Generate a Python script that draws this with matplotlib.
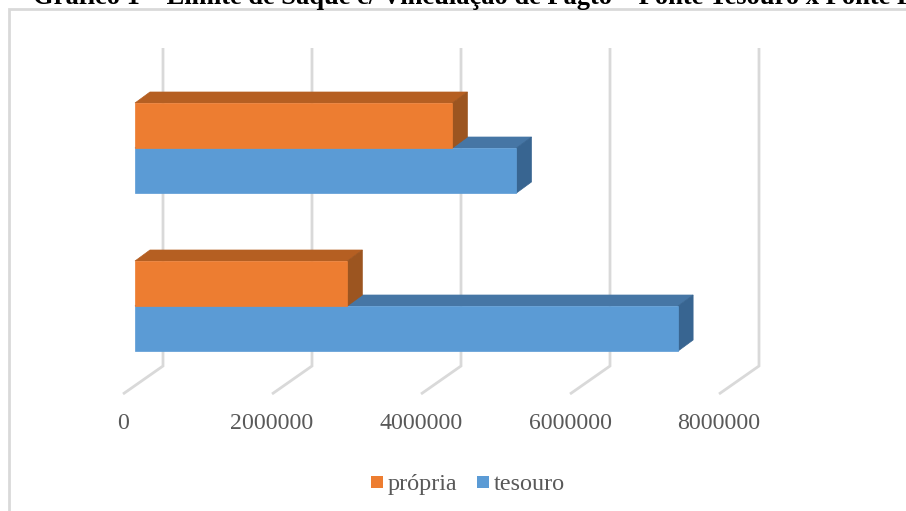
import matplotlib
matplotlib.use("Agg")
import matplotlib.pyplot as plt
from matplotlib.patches import Polygon, Rectangle
import numpy as np

plt.rcParams['font.family'] = ['Liberation Serif', 'DejaVu Serif']

categories = ["A", "B"]
tesouro = [7290000, 5120000]
propria = [2850000, 4260000]
series_names = ["própria", "tesouro"]
x_ticks = [0, 2000000, 4000000, 6000000, 8000000]
title = "Gráfico 1 – Limite de Saque c/ Vinculação de Pagto – Fonte Tesouro x Fonte Própria"

W, H = 906, 511
fig = plt.figure(figsize=(W / 100, H / 100), dpi=100)
ax = fig.add_axes([0, 0, 1, 1])
ax.axis('off')

# pixel <-> data mapping
PX_PER_UNIT = 149 / 2000000
X0 = 135
CAT_PX = 158
Y0 = 306
ax.set_xlim((0 - X0) / PX_PER_UNIT, (W - X0) / PX_PER_UNIT)
ax.set_ylim((Y0 - H) / CAT_PX, Y0 / CAT_PX)

dx = 15 / PX_PER_UNIT
dy = 11 / CAT_PX
bh = 45 / CAT_PX
wall_dx = 28 / PX_PER_UNIT
floor_dx = -12 / PX_PER_UNIT
floor_y = (Y0 - 394) / CAT_PX
wall_low = (Y0 - 366) / CAT_PX
wall_top = (Y0 - 48) / CAT_PX

GRID = '#d9d9d9'
for v in x_ticks:
    ax.plot([v + floor_dx, v + wall_dx, v + wall_dx], [floor_y, wall_low, wall_top],
            color=GRID, lw=2, solid_joinstyle='miter', solid_capstyle='butt', zorder=1)
    ax.text(v + floor_dx, (Y0 - 423) / CAT_PX, f"{v}", ha='center', va='center',
            fontsize=17.2, color='#595959')


def bar3d(val, y0, front, top, side, z):
    ax.add_patch(Polygon([(0, y0 + bh), (dx, y0 + bh + dy), (val + dx, y0 + bh + dy), (val, y0 + bh)],
                         fc=top, ec=top, lw=0.5, zorder=z))
    ax.add_patch(Polygon([(val, y0), (val + dx, y0 + dy), (val + dx, y0 + bh + dy), (val, y0 + bh)],
                         fc=side, ec=side, lw=0.5, zorder=z))
    ax.add_patch(Rectangle((0, y0), val, bh, fc=front, ec=front, lw=0.5, zorder=z + 0.1))


for i in range(len(categories)):
    bar3d(tesouro[i], i - bh, '#5B9BD5', '#4676A5', '#386591', 2 + i * 2)
    bar3d(propria[i], i, '#ED7D31', '#B55F22', '#9C5520', 3 + i * 2)

# Chart frame
def px(x, y):
    return (x - X0) / PX_PER_UNIT, (Y0 - y) / CAT_PX


fx, fy = zip(px(9, 511), px(9, 9), px(906, 9))
ax.plot(fx, fy, color=GRID, lw=2, zorder=1, solid_joinstyle='miter')

# Legend
for (sx, tx, name, col) in [(371, 388, series_names[0], '#ED7D31'), (477, 493.5, series_names[1], '#5B9BD5')]:
    lx, ly = px(sx, 488)
    ax.add_patch(Rectangle((lx, ly), 12 / PX_PER_UNIT, 12 / CAT_PX, fc=col, ec='none'))
    tx_d, ty_d = px(tx, 490)
    ax.text(tx_d, ty_d, name, ha='left', va='baseline', fontsize=17.4, color='#595959')

# Title clipped by the top of the image
tx_d, ty_d = px(33, 4)
ax.text(tx_d, ty_d, title, ha='left', va='baseline', fontsize=19.1, fontweight='bold',
        color='black', clip_on=True)

fig.savefig("out.png", dpi=100)
